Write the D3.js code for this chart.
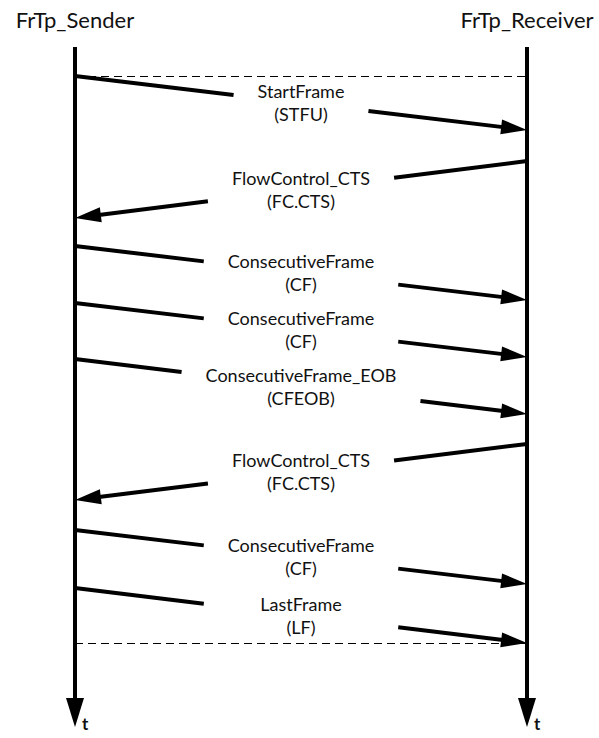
<!DOCTYPE html>
<html>
<head>
<meta charset="utf-8">
<script src="https://cdn.jsdelivr.net/npm/d3@7"></script>
<style>
  body { margin: 0; background: #fff; }
  text { font-family: Lato, "Noto Sans", sans-serif; fill: #111; }
</style>
</head>
<body>
<script>
let w = 599
let h = 738

// participants
let actors = ["FrTp_Sender", "FrTp_Receiver"]

// messages (top to bottom)
let msgNames = ["StartFrame", "FlowControl_CTS", "ConsecutiveFrame", "ConsecutiveFrame",
  "ConsecutiveFrame_EOB", "FlowControl_CTS", "ConsecutiveFrame", "LastFrame"]
let msgAbbr = ["(STFU)", "(FC.CTS)", "(CF)", "(CF)", "(CFEOB)", "(FC.CTS)", "(CF)", "(LF)"]
// the label box of LastFrame was drawn as wide as a ConsecutiveFrame one
let msgBoxAs = ["StartFrame", "FlowControl_CTS", "ConsecutiveFrame", "ConsecutiveFrame",
  "ConsecutiveFrame_EOB", "FlowControl_CTS", "ConsecutiveFrame", "ConsecutiveFrame"]
let msgFrom = [0, 1, 0, 0, 0, 1, 0, 0]
let msgTo = [1, 0, 1, 1, 1, 0, 1, 1]
let msgSend = [76, 161, 246, 303, 359, 444, 530, 588]
let msgRecv = [130, 218, 300, 357, 414, 500, 584, 643]

// time span of the sequence (dashed markers)
let seqStart = 76
let seqEnd = 643
let timeMin = 47
let timeMax = 727

let xScale = d3.scalePoint().domain(actors).range([75, 527])
let yScale = d3.scaleLinear().domain([timeMin, timeMax]).range([47, 727])

let svg = d3.select("body").append("svg")
  .attr("width", w)
  .attr("height", h)

let arrowHead = (g, x1, y1, x2, y2, len, half) => {
  let dx = x2 - x1, dy = y2 - y1
  let d = Math.sqrt(dx*dx + dy*dy)
  let ux = dx/d, uy = dy/d
  let bx = x2 - ux*len, by = y2 - uy*len
  g.append("polygon")
    .attr("points", [[x2, y2], [bx - uy*half, by + ux*half], [bx + uy*half, by - ux*half]].map(p => p.join(",")).join(" "))
    .attr("fill", "#000")
}

// actor titles
svg.selectAll(".actor")
  .data(actors)
  .enter()
  .append("text")
  .attr("class", "actor")
  .attr("x", d => xScale(d))
  .attr("y", 28)
  .attr("text-anchor", "middle")
  .attr("font-size", 22)
  .text(d => d)

// lifelines
actors.forEach(a => {
  let x = xScale(a)
  svg.append("line")
    .attr("x1", x).attr("x2", x)
    .attr("y1", yScale(timeMin)).attr("y2", yScale(timeMax) - 20)
    .attr("stroke", "#000")
    .attr("stroke-width", 4)
  arrowHead(svg, x, yScale(timeMin), x, yScale(timeMax), 29, 9)
  svg.append("text")
    .attr("x", x + 7)
    .attr("y", yScale(timeMax) + 3)
    .attr("font-size", 17)
    .attr("font-weight", "bold")
    .text("t")
})

// dashed start / end markers
let dashes = svg.append("g")
;[seqStart, seqEnd].forEach(t => {
  dashes.append("line")
    .attr("x1", xScale(actors[0])).attr("x2", xScale(actors[1]))
    .attr("y1", yScale(t) + 0.5).attr("y2", yScale(t) + 0.5)
    .attr("stroke", "#000")
    .attr("stroke-width", 1)
    .attr("stroke-dasharray", "8,5")
})

// messages
let pad = 24
let cx = 301
let fs = 18
let measure = svg.append("text").attr("font-size", fs).attr("opacity", 0)
let textW = s => { measure.text(s); return measure.node().getComputedTextLength() }

msgNames.forEach((name, i) => {
  let g = svg.append("g").attr("class", "msg")
  let x1 = xScale(actors[msgFrom[i]]), y1 = yScale(msgSend[i])
  let x2 = xScale(actors[msgTo[i]]), y2 = yScale(msgRecv[i])
  let mid = (y1 + y2) / 2

  let tw = Math.max(textW(msgBoxAs[i]), textW(msgAbbr[i]))
  let gl = cx - tw/2 - pad, gr = cx + tw/2 + pad

  // soft label box (fades the end marker behind it)
  g.append("rect")
    .attr("x", gl).attr("y", mid - 22)
    .attr("width", gr - gl).attr("height", 46)
    .attr("fill", "#fff")
    .attr("opacity", 0.7)

  g.append("text")
    .attr("x", cx).attr("y", mid - 5)
    .attr("text-anchor", "middle")
    .attr("font-size", fs)
    .text(name)
  g.append("text")
    .attr("x", cx).attr("y", mid + 18)
    .attr("text-anchor", "middle")
    .attr("font-size", fs)
    .text(msgAbbr[i])

  let yAt = x => y1 + (y2 - y1) * (x - x1) / (x2 - x1)
  let ga = x1 < x2 ? gl : gr
  let gb = x1 < x2 ? gr : gl
  g.append("line")
    .attr("x1", x1).attr("y1", y1)
    .attr("x2", ga).attr("y2", yAt(ga))
    .attr("stroke", "#000").attr("stroke-width", 4)
  let dx = x2 - gb, dy = y2 - yAt(gb)
  let d = Math.sqrt(dx*dx + dy*dy)
  g.append("line")
    .attr("x1", gb).attr("y1", yAt(gb))
    .attr("x2", x2 - dx/d*20).attr("y2", y2 - dy/d*20)
    .attr("stroke", "#000").attr("stroke-width", 4)
  arrowHead(g, gb, yAt(gb), x2, y2, 26, 7.5)
})
</script>
</body>
</html>
